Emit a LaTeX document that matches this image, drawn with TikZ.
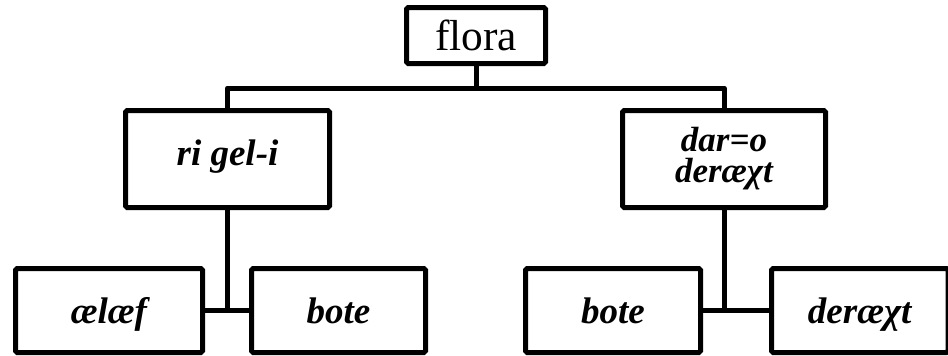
\documentclass[tikz,border=0pt]{standalone}
\usepackage{fontspec}
\setmainfont{Liberation Serif}
\begin{document}
\begin{tikzpicture}[x=0.5pt,y=-0.5pt,
  box/.style={draw=black,line width=2.5pt,rounded corners=0.8pt,inner sep=0pt,align=center},
  toplabel/.style={box,font=\fontsize{21.7}{26}\selectfont,minimum width=69.5pt,minimum height=28pt},
  midlabel/.style={box,font=\fontsize{18.5}{15.5}\selectfont\bfseries\itshape,minimum height=48.5pt},
  leaflabel/.style={box,font=\fontsize{18.5}{20}\selectfont\bfseries\itshape,minimum height=42pt,
    text height=16pt,text depth=3.5pt},
  link/.style={line width=2.5pt,line join=round}]
\useasboundingbox (0,0) rectangle (948,355);
\clip (0,0) rectangle (948,355);
% root
\node[toplabel] (root) at (476,35.5) {flora};
% second level
\node[midlabel,minimum width=102pt,text height=11pt,text depth=5pt] (ml) at (227.5,159) {ri gel-i};
\node[midlabel,minimum width=101.5pt,font=\fontsize{17.5}{15.5}\selectfont\bfseries\itshape] (mr) at (724,159) {dar=o\\deræχt};
% leaves
\node[leaflabel,minimum width=93.5pt] (ll) at (109,310.5) {ælæf};
\node[leaflabel,minimum width=87pt] (lr) at (338.5,310.5) {bote};
\node[leaflabel,minimum width=87.5pt] (rl) at (613,310.5) {bote};
\node[leaflabel,minimum width=88.25pt] (rr) at (859.75,310.5) {deræχt};
% connectors
\coordinate (bar) at (476,88);
\draw[link] (root.south) -- (bar);
\draw[link] (ml.north) |- (bar) -| (mr.north);
\draw[link] (ll.east) -- (lr.west);
\draw[link] (ml.south) -- (ml.south |- ll.east);
\draw[link] (rl.east) -- (rr.west);
\draw[link] (mr.south) -- (mr.south |- rl.east);
\end{tikzpicture}
\end{document}
